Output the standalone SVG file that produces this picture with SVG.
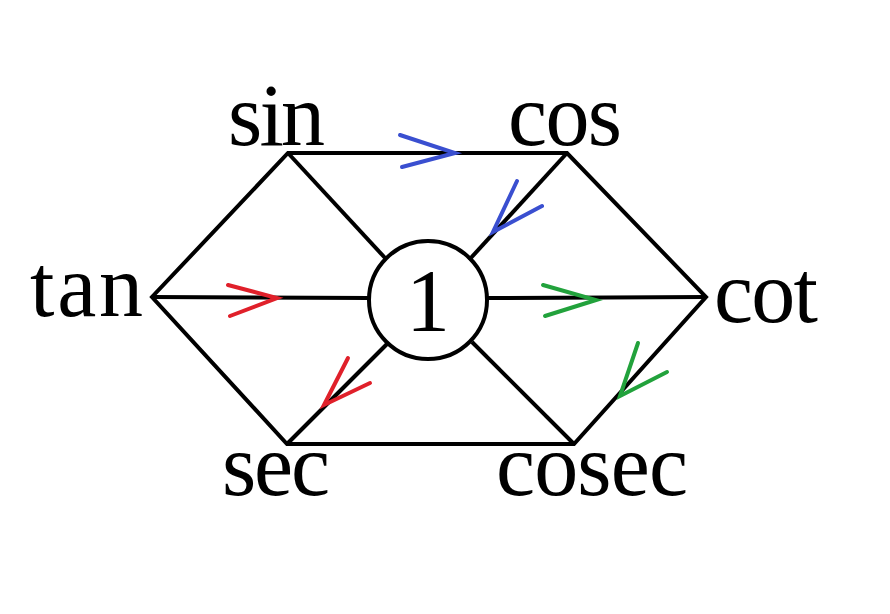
<svg xmlns="http://www.w3.org/2000/svg" width="890" height="614" viewBox="0 0 890 614">
<style>
.e{stroke:#000;stroke-width:4;fill:none}
.t{font-family:"Liberation Serif",serif;font-size:88px;fill:#000}
.b{stroke:#3a4fd0;stroke-width:4;fill:none;stroke-linecap:round}
.r{stroke:#e0202a;stroke-width:4;fill:none;stroke-linecap:round}
.g{stroke:#22a23c;stroke-width:4;fill:none;stroke-linecap:round}
</style>
<rect width="890" height="614" fill="#fff"/>
<g id="connectors">
<path class="e" d="M288 153L567 153L706 297L574 444L287 444L152 297Z"/>
<line class="e" x1="288" y1="153" x2="386" y2="259"/>
<line class="e" x1="567" y1="153" x2="469" y2="260"/>
<line class="e" x1="152" y1="297" x2="369" y2="298"/>
<line class="e" x1="487" y1="298" x2="706" y2="297"/>
<line class="e" x1="287" y1="444" x2="387" y2="344"/>
<line class="e" x1="574" y1="444" x2="472" y2="342"/>
<polyline class="b" points="400,135 455,153 402,167"/>
<polyline class="b" points="517,181 493,232 542,206"/>
<polyline class="r" points="228,285 277,298 230,316"/>
<polyline class="r" points="348,358 324,405 370,383"/>
<polyline class="g" points="543,285 596,300 545,316"/>
<polyline class="g" points="638,343 620,396 667,372"/>
</g>
<g id="one"><circle class="e" cx="428" cy="300" r="59"/><text class="t" x="428" y="330" text-anchor="middle">1</text></g>
<g id="sin"><text class="t" x="228" y="145" textLength="97">sin</text></g>
<g id="cos"><text class="t" x="508" y="145" textLength="114">cos</text></g>
<g id="tan"><text class="t" x="30" y="316" textLength="113">tan</text></g>
<g id="cot"><text class="t" x="714" y="322" textLength="104">cot</text></g>
<g id="sec"><text class="t" x="222" y="495" textLength="108">sec</text></g>
<g id="cosec"><text class="t" x="496" y="495" textLength="192">cosec</text></g>
</svg>
